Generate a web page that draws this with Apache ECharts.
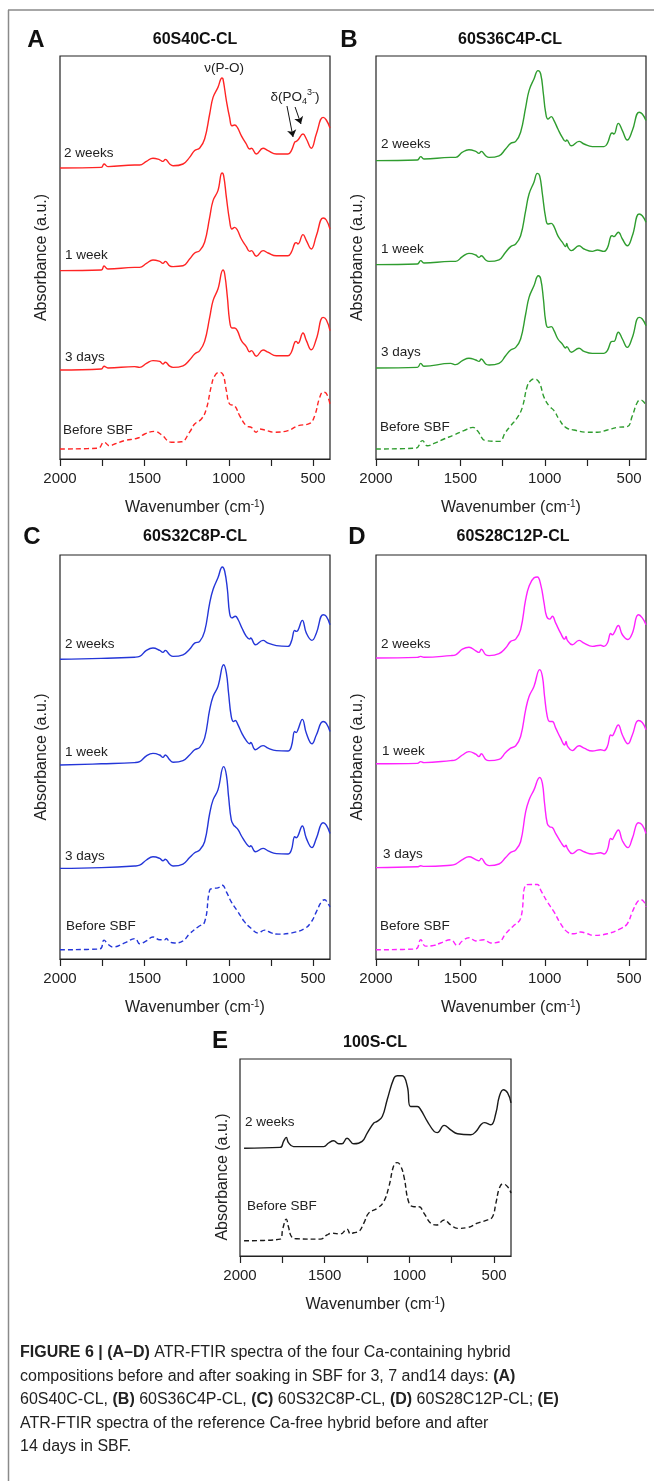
<!DOCTYPE html>
<html>
<head>
<meta charset="utf-8">
<script src="https://cdn.jsdelivr.net/npm/echarts@6/dist/echarts.min.js"></script>
<style>
html,body{margin:0;padding:0;background:#fff;}
#chart{width:654px;height:1481px;}
</style>
</head>
<body>
<div id="chart"></div>
<script>
// ---------- axis ticks / labels ----------
const xTickValues = [500, 750, 1000, 1250, 1500, 1750, 2000];
const xLabelValues = [500, 1000, 1500, 2000];
const panelLetters = ['A', 'B', 'C', 'D', 'E'];
const panelTitles = ['60S40C-CL', '60S36C4P-CL', '60S32C8P-CL', '60S28C12P-CL', '100S-CL'];
const curveLabels = ['2 weeks', '1 week', '3 days', 'Before SBF'];

// ---------- spectra: [wavenumber (cm-1), absorbance (a.u., offset)] ----------
const A_2weeks = [[2000,72.75],[1755,72.9],[1739,73.75],[1716,73.1],[1558,73.5],[1528,73.5],[1488,74.4],[1449,75.2],[1409,74.8],[1390,74.4],[1376,74.9],[1350,73.75],[1330,73.3],[1271,73.75],[1232,75.4],[1202,77.1],[1172,77.75],[1143,80],[1113,86.25],[1093,90.4],[1064,92.9],[1040,95.25],[1034,95],[1014,89.6],[995,85.4],[981,83.3],[965,83.5],[949,82.9],[925,80.8],[896,78.75],[876,77.5],[866,77.7],[837,76.25],[797,77.7],[767,77.1],[718,76.25],[649,76.25],[629,77.1],[609,79.2],[600,79.4],[590,79.75],[560,81.25],[540,80],[511,77.7],[481,81.25],[441,85.4],[422,84.75],[400,82.75]];
const A_1week = [[2000,47.1],[1755,47.25],[1739,48.25],[1716,47.5],[1558,47.9],[1528,47.9],[1488,48.9],[1449,49.75],[1409,49.4],[1390,48.9],[1376,49.4],[1350,48.3],[1330,48.1],[1271,48.3],[1232,50],[1202,51.5],[1172,52.1],[1143,54.2],[1113,60.4],[1093,64.6],[1064,67.1],[1040,71.5],[1030,70.8],[1014,65.4],[995,59.6],[981,57.5],[965,57.9],[949,57.25],[925,55],[896,53.1],[876,51.9],[866,52.1],[837,50.7],[797,52.1],[767,51.5],[718,50.8],[649,50.8],[629,51.7],[609,53.9],[600,54.1],[590,53.75],[560,56.1],[540,54.6],[511,52.5],[481,55.8],[441,60.25],[422,59.75],[400,57.5]];
const A_3days = [[2000,22.25],[1755,22.5],[1739,23.2],[1716,22.75],[1558,23.1],[1528,22.9],[1488,23.9],[1449,24.6],[1409,24.4],[1390,23.75],[1376,24.2],[1350,23.2],[1330,22.9],[1271,23.3],[1232,24.75],[1202,26.25],[1172,27.1],[1143,29.4],[1113,35.4],[1093,39.6],[1064,42.5],[1034,47.25],[1024,46.25],[1008,40.4],[995,34.6],[981,32.75],[965,32.75],[949,32.1],[925,29.6],[896,28.1],[876,26.8],[866,27.1],[837,25.7],[797,27.25],[767,26.7],[718,25.8],[649,25.8],[629,26.7],[609,29.2],[600,29.4],[590,28.9],[560,31.5],[540,29.6],[511,27.3],[481,30],[441,35.4],[422,34.8],[400,32.1]];
const A_before = [[2000,2.5],[1775,2.7],[1739,4.2],[1706,3.3],[1676,3.75],[1617,4.6],[1538,5.25],[1498,6.25],[1439,6.9],[1400,6.1],[1340,4.2],[1281,4.3],[1232,6.7],[1202,8.75],[1162,10],[1133,12.5],[1103,18.3],[1083,20.8],[1054,21.7],[1034,21.1],[1014,17.1],[995,13.75],[965,13.3],[935,10.8],[896,8.3],[866,7.9],[837,6.7],[817,7.5],[787,7.25],[728,6.7],[649,7.1],[590,8.3],[520,8.9],[491,10.8],[461,15.4],[441,16.7],[422,16.4],[400,13.75]];

const B_2weeks = [[2000,74.6],[1755,74.75],[1735,75.6],[1716,75],[1558,75.4],[1528,75.4],[1488,76.7],[1449,77.3],[1409,76.9],[1390,76.4],[1376,76.9],[1350,75.8],[1330,75.4],[1271,75.8],[1232,77.5],[1202,78.9],[1172,79.4],[1143,81.7],[1113,87.9],[1093,92.1],[1064,95],[1040,97.1],[1024,96.25],[1008,91.25],[995,86.7],[981,85],[961,85.6],[945,84.6],[922,82.5],[896,80.4],[876,79.4],[870,79.75],[842,78.3],[797,79.4],[767,78.75],[718,78.1],[649,78.1],[629,78.9],[609,81.25],[600,81.5],[590,81.25],[564,83.9],[540,82.1],[511,79.75],[481,82.1],[441,86.7],[422,86.25],[400,84.6]];
const B_1week = [[2000,48.6],[1755,48.75],[1735,49.6],[1716,49],[1558,49.4],[1528,49.4],[1488,50.6],[1449,51.4],[1409,51],[1390,50.4],[1376,50.8],[1350,49.75],[1330,49.4],[1271,49.8],[1232,51.7],[1202,53.1],[1172,53.75],[1143,55.8],[1113,62.1],[1093,66.25],[1064,69.2],[1044,71.4],[1030,70.8],[1014,66.25],[995,60.4],[981,58.75],[961,58.9],[945,58.1],[922,55.8],[896,54.2],[876,53.1],[870,53.9],[862,52.9],[842,52.1],[797,53.3],[767,52.5],[718,51.9],[688,52.25],[649,51.9],[629,52.75],[609,55.6],[600,55.8],[590,55.6],[564,56.7],[540,55],[511,53.3],[481,55.8],[441,61.25],[422,60.8],[400,59.2]];
const B_3days = [[2000,22.75],[1755,22.9],[1735,23.9],[1716,23.2],[1558,23.9],[1528,23.6],[1488,24.6],[1449,25.2],[1409,24.75],[1390,24.4],[1376,25],[1350,23.75],[1330,23.5],[1271,23.9],[1232,25.8],[1202,27.25],[1172,27.9],[1143,30],[1113,36.25],[1093,40.4],[1064,43.3],[1038,45.8],[1024,45],[1008,40],[995,34.6],[981,32.9],[961,33.1],[945,32.1],[922,30],[896,28.75],[876,27.75],[870,28.1],[842,26.7],[797,27.7],[767,26.9],[718,26.4],[649,26.4],[629,27.1],[609,29.2],[600,29.4],[590,29.4],[564,31.7],[540,30],[511,27.9],[481,30.4],[441,35.4],[422,35],[400,33.3]];
const B_before = [[2000,2.5],[1765,2.7],[1725,4.6],[1696,3.3],[1656,3.9],[1597,5],[1538,6],[1479,7.1],[1425,7.9],[1400,7.1],[1350,4.6],[1271,4.4],[1232,6.7],[1202,8.3],[1162,10.4],[1133,12.9],[1103,18.3],[1083,19.6],[1064,20],[1034,19.2],[1004,15.4],[975,13.3],[945,12.1],[916,10],[876,7.9],[827,7.25],[748,6.7],[688,6.7],[629,7.25],[570,7.9],[511,8.1],[481,10.8],[451,14.2],[432,14.75],[412,14.2],[400,13.3]];

const C_2weeks = [[2000,74.8],[1755,75],[1558,75.3],[1528,75.5],[1488,77],[1449,77.6],[1409,77],[1390,76.5],[1376,77],[1350,75.9],[1330,75.5],[1271,75.9],[1232,77.3],[1202,78.8],[1172,79.25],[1143,81.75],[1113,88.8],[1093,92.2],[1064,95.1],[1038,97.8],[1024,96.75],[1008,92.2],[995,86.3],[981,85.1],[961,85.5],[945,84.7],[922,82.6],[896,80.5],[876,79.8],[870,80.1],[842,78.4],[797,79.5],[767,78.8],[718,78.2],[649,78],[629,79.25],[609,82],[600,81.75],[590,82],[564,84.5],[540,81.3],[507,79.5],[481,81.3],[441,85.9],[422,85.5],[400,83.4]];
const C_1week = [[2000,48.4],[1755,48.7],[1558,49],[1528,49.25],[1488,50.7],[1449,51.3],[1409,50.9],[1390,50.3],[1376,50.9],[1350,49.7],[1330,49.1],[1271,49.5],[1232,50.9],[1202,52.2],[1172,52.8],[1143,55.1],[1113,62.2],[1093,65.5],[1064,68],[1030,73.4],[1014,71.3],[1001,66.3],[985,60.5],[971,59.25],[961,59.5],[945,58.4],[922,56.3],[896,54.5],[876,53.7],[870,54],[842,52.2],[797,53.25],[767,52.6],[718,52],[649,51.9],[629,53],[609,56.75],[600,56.5],[590,57.2],[564,59.8],[540,56.3],[507,53.7],[481,55.9],[441,59.25],[422,58.8],[400,56.75]];
const C_3days = [[2000,22.6],[1755,22.8],[1558,23.2],[1528,23.4],[1488,24.7],[1449,25.5],[1409,25.1],[1390,24.5],[1376,24.9],[1350,23.7],[1330,23.2],[1271,23.7],[1232,25.3],[1202,26.5],[1172,27.2],[1143,29.25],[1113,36.3],[1093,39.7],[1064,42.2],[1030,48],[1014,45.9],[1001,40.5],[985,34.7],[971,33.4],[961,33],[945,32.3],[922,30.5],[896,28.8],[876,28],[870,28.25],[842,26.75],[797,27.6],[767,27],[718,26.3],[649,26.2],[629,27.2],[609,30.5],[600,30.25],[590,30.7],[564,33.2],[540,30.1],[507,27.8],[481,30.1],[441,34],[422,33.4],[400,31.3]];
const C_before = [[2000,2.3],[1765,2.5],[1739,4.7],[1716,3.7],[1686,3],[1617,4],[1554,5.1],[1528,3.8],[1488,4.5],[1449,5.5],[1409,4.8],[1380,4.8],[1370,5.1],[1350,4.25],[1321,4],[1271,4.5],[1232,6.3],[1182,8],[1143,9.25],[1113,17.2],[1093,17.6],[1064,17.75],[1038,18.4],[1014,16.75],[985,14.25],[945,11.75],[906,9.25],[866,7.6],[827,6.5],[787,7.2],[748,6.5],[708,6.2],[629,6.5],[550,7.6],[511,9.25],[481,11.75],[451,14.25],[432,14.8],[412,13.8],[400,13]];

const D_2weeks = [[2000,75.1],[1755,75.25],[1735,75.5],[1716,75.3],[1558,75.7],[1528,75.9],[1488,77.3],[1449,77.8],[1409,76.9],[1390,76.5],[1376,77.3],[1350,75.9],[1330,75.7],[1271,76.2],[1232,77.6],[1202,79.25],[1172,79.8],[1143,82.2],[1113,89.7],[1093,93],[1064,95.1],[1044,95.3],[1024,93.4],[1004,88.8],[989,85.5],[971,84.8],[955,85.5],[935,83.8],[906,81.3],[882,79.8],[874,80.5],[866,79.5],[837,78.4],[797,79.5],[767,78.8],[718,78],[669,78.3],[649,78],[629,78.8],[609,81.2],[600,80.9],[590,81.3],[564,83.2],[540,80.9],[507,79.7],[481,81.3],[445,85.9],[422,85.1],[400,83.4]];
const D_1week = [[2000,48.7],[1755,48.8],[1735,49.25],[1716,49],[1558,49.5],[1528,49.7],[1488,50.9],[1449,51.75],[1409,51.1],[1390,50.5],[1376,51.2],[1350,49.8],[1330,49.5],[1271,49.8],[1232,51.5],[1202,52.6],[1172,53.2],[1143,55.5],[1113,62.2],[1093,65.5],[1064,68],[1030,72.2],[1014,70.5],[1001,65.5],[985,60.5],[971,59.25],[955,59.25],[935,57.6],[906,55.1],[882,53.4],[874,54.25],[866,53.2],[837,52],[797,53.2],[767,52.6],[718,51.9],[669,52.2],[649,52],[629,53],[609,55.9],[600,55.7],[590,56.3],[564,58.4],[540,55.9],[507,53.7],[481,55.9],[445,59.5],[422,59],[400,57.2]];
const D_3days = [[2000,22.8],[1755,23],[1735,23.25],[1716,23.1],[1558,23.4],[1528,23.7],[1488,24.8],[1449,25.5],[1409,24.8],[1390,24.5],[1376,25.1],[1350,23.7],[1330,23.3],[1271,23.7],[1232,25.3],[1202,26.6],[1172,27.2],[1143,29.25],[1113,36.75],[1093,39.7],[1064,42.2],[1030,45.3],[1014,43.8],[1001,38.8],[985,33.8],[971,33],[955,32.8],[935,31.3],[906,29.25],[882,28],[874,28.4],[866,27.6],[837,26.3],[797,27.3],[767,26.75],[718,26.2],[669,26.5],[649,26.2],[629,27.2],[609,30.1],[600,29.8],[590,30.5],[564,32.2],[540,29.5],[507,27.8],[481,30.1],[445,34],[422,33.4],[400,31.3]];
const D_before = [[2000,2.3],[1765,2.5],[1735,4.8],[1706,3.2],[1656,3.4],[1617,4],[1558,4.8],[1518,3.4],[1488,4.5],[1449,5.3],[1409,4.5],[1380,4.7],[1360,4.8],[1321,4],[1271,4.25],[1232,6.3],[1182,8.4],[1143,10.1],[1113,18.4],[1083,18.6],[1044,18.6],[1024,17.2],[985,14.25],[945,11.75],[906,8.8],[866,6.75],[827,6.3],[787,6.75],[748,6.3],[708,5.9],[629,6.3],[550,7.6],[511,8.8],[481,11.75],[451,14.25],[432,14.8],[412,14.25],[400,13]];

const E_2weeks = [[1976,26.9],[1763,27.1],[1743,28.6],[1727,29.6],[1714,28.3],[1684,27.3],[1506,27.3],[1477,28.2],[1447,28.75],[1417,28],[1398,28],[1368,29.4],[1328,28],[1279,28.6],[1249,30.7],[1210,33.2],[1190,33.6],[1160,34.8],[1131,39],[1091,44.4],[1072,45],[1042,45],[1012,42.3],[993,37.3],[953,37.3],[933,36.5],[894,33.6],[854,31.1],[835,30.8],[795,32.6],[756,31.5],[716,30.5],[637,30.25],[607,31.1],[578,32.75],[558,33.3],[519,32.75],[489,35.7],[469,39.8],[445,41.5],[420,40.7],[400,38.2]];
const E_before = [[1976,3.8],[1763,4.2],[1747,6.9],[1727,9.2],[1714,7.3],[1694,4.7],[1664,4.3],[1526,4.2],[1486,5.25],[1457,5.7],[1407,5.5],[1368,6.7],[1348,5.5],[1328,5.8],[1299,6.1],[1269,8.2],[1240,10.7],[1190,11.9],[1151,13.6],[1121,17.3],[1091,22.75],[1072,23.3],[1052,22.5],[1032,19.8],[1002,13.2],[973,12.3],[943,12.3],[914,10.7],[874,8.2],[839,7.75],[795,9],[756,7.75],[716,6.9],[657,7.1],[598,8.2],[538,9],[509,9.8],[489,13.2],[469,16.9],[449,18],[420,17.3],[400,15.7]];

// annotation anchor points in panel A (data coordinates)
const arrowsA = [[[655, 88.25], [619, 80.5]], [[607, 88], [572, 83.75]]];
const labelPO = [1028, 97.75];
const labelPO4 = [607, 90.5];

// ---------- layout ----------
const panels = [
  {grid:{left:60, top:56, width:270, height:403}, ymax:100.75, color:'#ff2424', data:[A_2weeks, A_1week, A_3days, A_before]},
  {grid:{left:376, top:56, width:270, height:403}, ymax:100.75, color:'#2f9d2f', data:[B_2weeks, B_1week, B_3days, B_before]},
  {grid:{left:60, top:555, width:270, height:404}, ymax:100.8, color:'#2436d8', data:[C_2weeks, C_1week, C_3days, C_before]},
  {grid:{left:376, top:555, width:270, height:404}, ymax:100.8, color:'#ff22ff', data:[D_2weeks, D_1week, D_3days, D_before]},
  {grid:{left:240, top:1059, width:271, height:197}, ymax:49.17, color:'#1a1a1a', data:[E_2weeks, E_before]}
];

const FONT = '"Liberation Sans", Arial, Helvetica, sans-serif';
const grids = [], xAxes = [], yAxes = [], series = [];

panels.forEach((p, i) => {
  grids.push(Object.assign({show:true, borderColor:'#222', borderWidth:1.2, backgroundColor:'transparent'}, p.grid));
  xAxes.push({
    gridIndex:i, type:'value', min:400, max:2000, inverse:true,
    axisLine:{show:true, lineStyle:{color:'#222', width:1.2}},
    axisTick:{show:true, inside:false, length:7, customValues:xTickValues, lineStyle:{color:'#222', width:1.2}},
    axisLabel:{show:true, customValues:xLabelValues, formatter:(v) => String(v), fontSize:15, color:'#222', margin:12, fontFamily:FONT, showMinLabel:true, showMaxLabel:true},
    splitLine:{show:false},
    name:'Wavenumber (cm{sup|-1})', nameLocation:'middle', nameGap:40,
    nameTextStyle:{fontSize:16, color:'#222', fontFamily:FONT, lineHeight:18,
      rich:{sup:{fontSize:10, verticalAlign:'top', lineHeight:10, fontFamily:FONT, color:'#222'}}}
  });
  yAxes.push({
    gridIndex:i, type:'value', min:0, max:p.ymax,
    axisLine:{show:false}, axisTick:{show:false}, axisLabel:{show:false}, splitLine:{show:false},
    name: i < 4 ? 'Absorbance (a.u.)' : '', nameLocation:'middle', nameGap:10, nameRotate:90,
    nameTextStyle:{fontSize:16, color:'#222', fontFamily:FONT}
  });
  p.data.forEach((d, k) => {
    const dashed = (k === p.data.length - 1);
    const s = {
      type:'line', xAxisIndex:i, yAxisIndex:i, data:d, showSymbol:false, symbol:'none',
      smooth:0.45, silent:true,
      lineStyle:{color:p.color, width:1.4, type: dashed ? [5, 3] : 'solid'},
      z: 3
    };
    if (i === 0 && k === 0) {
      s.markLine = {
        silent:true, symbol:['none', 'arrow'], symbolSize:7, animation:false,
        lineStyle:{color:'#111', width:1, type:'solid'}, label:{show:false},
        data: arrowsA.map(a => [{coord:a[0]}, {coord:a[1]}])
      };
      s.markPoint = {
        silent:true, symbol:'circle', symbolSize:1, itemStyle:{color:'rgba(0,0,0,0)'}, animation:false,
        data:[
          {coord:labelPO, label:{show:true, position:'inside', formatter:'ν(P-O)', fontSize:13.5, color:'#222', fontFamily:FONT}},
          {coord:labelPO4, label:{show:true, position:'inside', formatter:'δ(PO{sub|4}{sup|3-})', fontSize:13.5, color:'#222', fontFamily:FONT, lineHeight:18,
            rich:{sub:{fontSize:9, verticalAlign:'bottom', lineHeight:11, fontFamily:FONT, color:'#222'}, sup:{fontSize:9, verticalAlign:'top', lineHeight:11, fontFamily:FONT, color:'#222'}}}}
        ]
      };
    }
    series.push(s);
  });
});

// ---------- texts ----------
function txt(x, y, text, opt) {
  opt = opt || {};
  return {type:'text', x:x, y:y, rotation: opt.rotation || 0, silent:true, z:10,
    style:{text:text, fill: opt.fill || '#222', fontSize: opt.size || 13.5, fontWeight: opt.weight || 'normal',
      fontFamily: opt.family || FONT,
      align: opt.align || 'left', textAlign: opt.align || 'left',
      verticalAlign: opt.valign || 'middle', textVerticalAlign: opt.valign || 'middle',
      rich: opt.rich}};
}
const graphics = [];
// frame
graphics.push({type:'line', silent:true, shape:{x1:8, y1:10, x2:654, y2:10}, style:{stroke:'#8a8a8a', lineWidth:1.5}});
graphics.push({type:'line', silent:true, shape:{x1:8.5, y1:10, x2:8.5, y2:1481}, style:{stroke:'#8a8a8a', lineWidth:1.5}});
// letters and titles
const letterPos = [[36,40],[349,40],[32,537],[357,537],[220,1041]];
const titlePos = [[195,40],[510,40],[195,537],[513,537],[375,1043]];
panelLetters.forEach((L, i) => {
  graphics.push(txt(letterPos[i][0], letterPos[i][1], L, {size:24, weight:'bold', align:'center', fill:'#111'}));
  graphics.push(txt(titlePos[i][0], titlePos[i][1], panelTitles[i], {size:16, weight:'bold', align:'center', fill:'#111'}));
});
// curve labels
const labelPos = [
  [[64,153],[65,255],[65,357],[63,430]],
  [[381,144],[381,249],[381,352],[380,427]],
  [[65,644],[65,752],[65,856],[66,926]],
  [[381,644],[382,751],[383,854],[380,926]]
];
labelPos.forEach(ps => ps.forEach((q, k) => graphics.push(txt(q[0], q[1], curveLabels[k], {size:13.5}))));
graphics.push(txt(245, 1122, curveLabels[0], {size:13.5}));
graphics.push(txt(247, 1206, curveLabels[3], {size:13.5}));
// E y-axis name
graphics.push(txt(223, 1177, 'Absorbance (a.u.)', {size:16, align:'center', rotation:Math.PI/2}));

// caption
const CAP = '"Liberation Sans Narrow", "Arial Narrow", "Liberation Sans", sans-serif';
const capRich = {b:{fontWeight:'bold', fontSize:16, fontFamily:CAP, fill:'#222', color:'#222'}};
const captionLines = [
  '{b|FIGURE 6 | (A–D)} ATR-FTIR spectra of the four Ca-containing hybrid',
  'compositions before and after soaking in SBF for 3, 7 and14 days: {b|(A)}',
  '60S40C-CL, {b|(B)} 60S36C4P-CL, {b|(C)} 60S32C8P-CL, {b|(D)} 60S28C12P-CL; {b|(E)}',
  'ATR-FTIR spectra of the reference Ca-free hybrid before and after',
  '14 days in SBF.'
];
captionLines.forEach((t, k) => graphics.push(txt(20, 1353 + k * 23.5, t, {size:16, family:CAP, rich:capRich})));

const chart = echarts.init(document.getElementById('chart'), null, {renderer:'canvas'});
chart.setOption({
  animation:false,
  backgroundColor:'#ffffff',
  grid:grids, xAxis:xAxes, yAxis:yAxes, series:series,
  graphic:{elements:graphics}
});
</script>
</body>
</html>
